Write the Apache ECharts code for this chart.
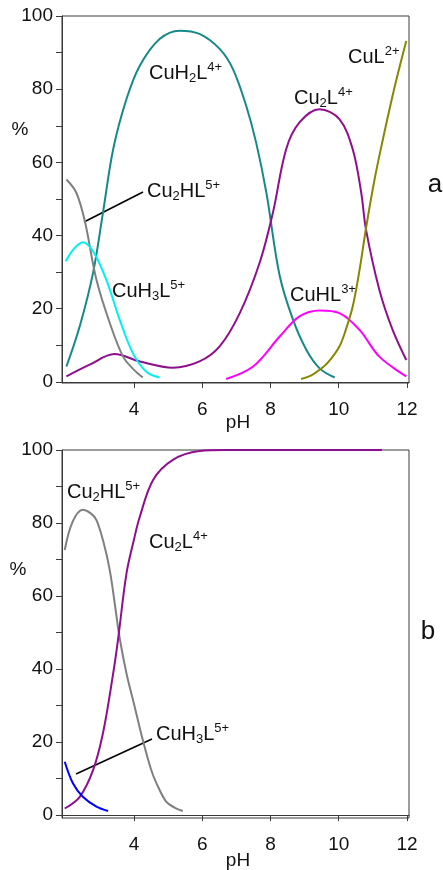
<!DOCTYPE html>
<html>
<head>
<meta charset="utf-8">
<script src="https://cdn.jsdelivr.net/npm/echarts@6/dist/echarts.min.js"></script>
<style>
html,body{margin:0;padding:0;background:#fff;}
#c{width:443px;height:870px;}
</style>
</head>
<body>
<div id="c"></div>
<script>
// ---- Data (pH, % of species) ----
// Panel a
var phA_Cu2HL = [2.02, 2.31, 2.56, 2.9, 3.29, 3.68, 4.0, 4.26];
var pctA_Cu2HL = [55.3, 51.7, 43.9, 27.9, 16.1, 6.9, 3.3, 1.2];
var phA_CuH3L = [2.0, 2.25, 2.5, 2.8, 3.19, 3.58, 3.97, 4.36, 4.75];
var pctA_CuH3L = [33, 36.5, 38.2, 35.7, 27.9, 17, 7.8, 2.8, 1.2];
var phA_CuH2L = [2.02, 2.41, 2.8, 3.09, 3.39, 3.78, 4.17, 4.75, 5.34, 5.92, 6.51, 6.9, 7.29, 7.58, 7.88, 8.27, 8.66, 9.05, 9.44, 9.88];
var pctA_CuH2L = [4.2, 15.2, 29.8, 46.2, 63.6, 77.3, 86.4, 93.7, 96.0, 95.1, 91, 85.5, 75.4, 65.4, 51.7, 29, 17, 8.8, 3.7, 1.2];
var phA_Cu2L = [2.02, 2.7, 3.43, 4.17, 5.14, 5.92, 6.51, 7.1, 7.68, 8.07, 8.46, 8.85, 9.44, 10.02, 10.41, 10.66, 10.8, 11.19, 11.58, 11.98];
var pctA_Cu2L = [1.5, 4.7, 7.6, 5.6, 3.9, 5.6, 9.7, 18.8, 32.5, 46.2, 63.6, 70.9, 74.5, 71.8, 63.6, 51.7, 41.6, 25.2, 14.2, 6];
var phA_CuHL = [6.7, 7.49, 8.27, 8.85, 9.44, 10.02, 10.61, 11.19, 11.98];
var pctA_CuHL = [0.8, 4.2, 12.4, 17.9, 19.5, 18.8, 14.2, 6.9, 1.5];
var phA_CuL = [8.9, 9.2, 9.44, 9.7, 10.02, 10.2, 10.41, 10.6, 10.8, 11.05, 11.3, 11.5, 11.7, 11.98];
var pctA_CuL = [0.8, 1.8, 3.3, 5.5, 9.7, 14, 20.6, 30, 42, 55.3, 66.5, 75, 83, 93.2];
// Panel b
var phB_Cu2HL = [1.97, 2.2, 2.5, 2.75, 2.9, 3.1, 3.29, 3.45, 3.58, 3.78, 4.02, 4.26, 4.5, 4.66, 4.95, 5.2, 5.43];
var pctB_Cu2HL = [72.6, 80.3, 83.6, 82.5, 80.8, 75, 67.1, 57, 48.5, 38.8, 29.7, 20.5, 12.5, 8.7, 3.6, 2, 1.1];
var phB_Cu2L = [1.97, 2.41, 2.8, 3.09, 3.39, 3.53, 3.78, 4.0, 4.17, 4.56, 5.14, 5.92, 6.7, 8.5, 10, 11.27];
var pctB_Cu2L = [1.8, 5, 12.3, 22.4, 38.8, 47.9, 66.2, 75.5, 81.7, 91.8, 97.3, 99.7, 100, 100, 100, 100];
var phB_CuH3L = [1.97, 2.21, 2.5, 2.9, 3.24];
var pctB_CuH3L = [14.6, 8.7, 5, 2.3, 1.1];

var xTicks = [4, 6, 8, 10, 12];
var yTicks = [0, 10, 20, 30, 40, 50, 60, 70, 80, 90, 100];
var yLabels = [0, 20, 40, 60, 80, 100];

function pairs(xs, ys) { return xs.map(function (x, i) { return [x, ys[i]]; }); }

var FONT = "'Liberation Sans', Arial, sans-serif";
var AX = '#3a3a3a';

function xAxisDef(idx) {
  return {
    type: 'value', gridIndex: idx, min: 1.89, max: 12.06,
    axisLine: { show: true, lineStyle: { color: AX, width: 1 } },
    axisTick: { show: true, length: 6, lineStyle: { color: AX }, customValues: xTicks },
    axisLabel: { show: true, margin: 17, fontSize: 19, color: '#111', fontFamily: FONT, customValues: xTicks },
    splitLine: { show: false }
  };
}
function yAxisDef(idx, mn) {
  return {
    type: 'value', gridIndex: idx, min: mn, max: 100,
    axisLine: { show: true, lineStyle: { color: AX, width: 1 } },
    axisTick: { show: true, length: 6, lineStyle: { color: AX }, customValues: yTicks },
    axisLabel: { show: true, margin: 9, fontSize: 19, color: '#111', fontFamily: FONT, customValues: yLabels },
    splitLine: { show: false }
  };
}
function line(name, xi, data, color) {
  return {
    name: name, type: 'line', xAxisIndex: xi, yAxisIndex: xi, data: data,
    smooth: 0.35, showSymbol: false, symbol: 'none',
    lineStyle: { color: color, width: 2 }, silent: true, animation: false
  };
}

var rich = {
  m: { fontSize: 20, fontFamily: FONT, fill: '#111', color: '#111' },
  sub: { fontSize: 13, fontFamily: FONT, fill: '#111', color: '#111', padding: [10, 0, 0, 0] },
  sup: { fontSize: 13, fontFamily: FONT, fill: '#111', color: '#111', padding: [0, 0, 11, 0] }
};
function label(x, y, text) {
  return { type: 'text', x: x, y: y, silent: true,
    style: { text: text, rich: rich, align: 'left', verticalAlign: 'middle', font: '20px ' + FONT, fill: '#111' } };
}
function plain(x, y, text, size, align) {
  return { type: 'text', x: x, y: y, silent: true,
    style: { text: text, font: size + 'px ' + FONT, fill: '#111', align: align || 'center', verticalAlign: 'middle' } };
}
function leader(x1, y1, x2, y2) {
  return { type: 'line', silent: true, shape: { x1: x1, y1: y1, x2: x2, y2: y2 }, style: { stroke: '#000', lineWidth: 1.6 } };
}

var chart = echarts.init(document.getElementById('c'), null, { renderer: 'canvas' });
chart.setOption({
  animation: false,
  backgroundColor: '#fff',
  grid: [
    { left: 62, top: 16, width: 347, height: 367, show: true, borderColor: AX, borderWidth: 1 },
    { left: 62, top: 450, width: 347, height: 368, show: true, borderColor: AX, borderWidth: 1 }
  ],
  xAxis: [xAxisDef(0), xAxisDef(1)],
  yAxis: [yAxisDef(0, -0.3), yAxisDef(1, -0.8)],
  series: [
    line('CuH2L4+', 0, pairs(phA_CuH2L, pctA_CuH2L), '#15898a'),
    line('Cu2L4+', 0, pairs(phA_Cu2L, pctA_Cu2L), '#8e0f8e'),
    line('Cu2HL5+', 0, pairs(phA_Cu2HL, pctA_Cu2HL), '#808080'),
    line('CuH3L5+', 0, pairs(phA_CuH3L, pctA_CuH3L), '#00f0f0'),
    line('CuHL3+', 0, pairs(phA_CuHL, pctA_CuHL), '#ff00ff'),
    line('CuL2+', 0, pairs(phA_CuL, pctA_CuL), '#878700'),
    line('Cu2HL5+ b', 1, pairs(phB_Cu2HL, pctB_Cu2HL), '#808080'),
    line('Cu2L4+ b', 1, pairs(phB_Cu2L, pctB_Cu2L), '#8e0f8e'),
    line('CuH3L5+ b', 1, pairs(phB_CuH3L, pctB_CuH3L), '#0000ff')
  ],
  graphic: [
    label(149, 73, '{m|CuH}{sub|2}{m|L}{sup|4+}'),
    label(348, 57, '{m|CuL}{sup|2+}'),
    label(294, 98, '{m|Cu}{sub|2}{m|L}{sup|4+}'),
    label(147, 191, '{m|Cu}{sub|2}{m|HL}{sup|5+}'),
    leader(84, 222, 143, 192),
    label(112, 291, '{m|CuH}{sub|3}{m|L}{sup|5+}'),
    label(290, 295, '{m|CuHL}{sup|3+}'),
    label(67, 492, '{m|Cu}{sub|2}{m|HL}{sup|5+}'),
    label(149, 542, '{m|Cu}{sub|2}{m|L}{sup|4+}'),
    label(156, 734, '{m|CuH}{sub|3}{m|L}{sup|5+}'),
    leader(76, 774, 152, 739),
    plain(20, 130, '%', 19),
    plain(18, 570, '%', 19),
    plain(238, 423, 'pH', 19),
    plain(238, 861, 'pH', 19),
    plain(435, 185, 'a', 26),
    plain(428, 632, 'b', 26)
  ]
});
</script>
</body>
</html>
